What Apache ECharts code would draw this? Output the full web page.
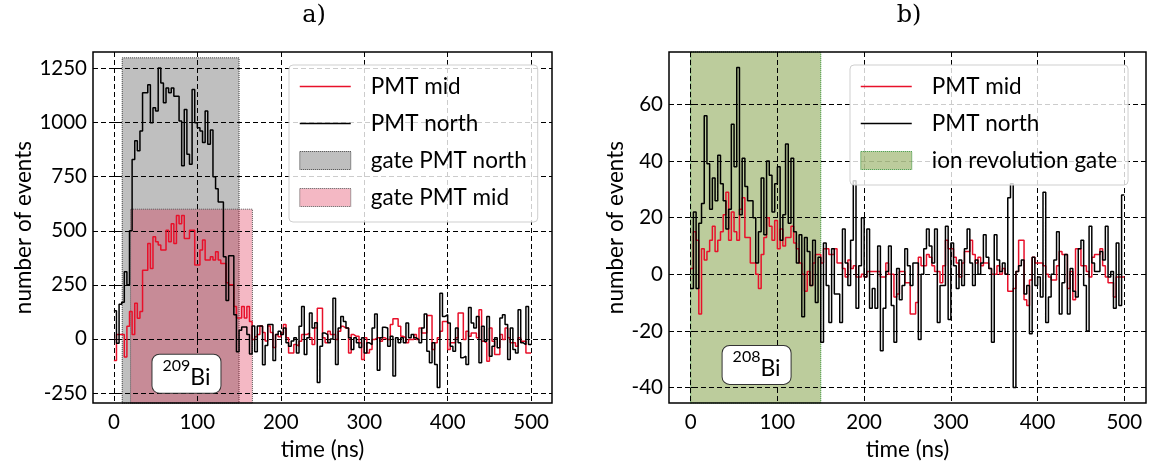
<!DOCTYPE html>
<html><head><meta charset="utf-8">
<script src="https://cdn.jsdelivr.net/npm/echarts@6/dist/echarts.min.js"></script>
<style>html,body{margin:0;padding:0;background:#fff}#c{width:1152px;height:466px}</style>
</head><body><div id="c"></div>
<script>
// ---------- data ----------
const binWidth = 3.125; // ns per histogram bin, bins start at t = 0
const northA = [
 130,-20,160,170,310,250,500,830,916,870,
 962,1138,1138,1176,1000,1069,1054,1253,1184,1092,
 1161,1138,1161,1122,1122,1008,801,1061,854,808,
 1153,1000,977,962,908,1054,900,966,750,694,
 633,633,380,178,385,385,112,-60,40,55,
 55,20,-70,60,-60,60,60,-120,-30,67,
 67,-100,20,35,
 20,50,-18,-34,-10,5,-65,58,150,-72,5,120,50,75,-202,-34,27,20,-18,
 0,
 188,-118,50,104,81,50,5,-49,5,-18,-40,5,-65,-18,-26,50,115,-145,5,54,50,-34,12,-172,5,-18,5,-18,74,5,20,
 5,
 -3,-18,50,115,-57,-110,-18,-118,-225,211,104,112,74,-34,-57,50,-18,-87,-80,-118,145,74,50,104,-110,58,-11,104,-80,
 -34,5,-41,97,112,66,-95,50,-49,
 -65,135,-18,-26,150,-26
];
const midA = [
 -100,20,20,20,-84,58,127,20,165,96,
 127,318,318,441,326,472,449,434,411,411,
 502,449,533,441,571,533,571,464,464,502,
 502,342,342,411,457,365,365,380,365,403,
 365,349,349,260,250,250,150,97,97,150,
 97,150,81,-3,10,20,60,30,-10,60,
 30,-40,20,10,27,66,5,-65,-65,-26,
 -34,-11,20,20,27,5,-26,50,142,142,
 5,-18,35,20,20,-3,35,58,50,50,
 -65,20,12,12,-18,-95,5,-65,-49,-3,
 5,5,-11,5,-3,-3,66,93,93,58,
 12,5,-18,-3,-3,20,-3,50,27,27,
 108,108,-49,-18,5,35,81,81,-49,-18,
 -18,5,120,120,-3,35,12,27,27,5,
 135,-11,-18,-103,50,-11,-72,-72,20,-3,
 50,5,-18,-18,-34,5,-11,-11,-65,-65
];
const northB = [
 -5,22,-5,18,25,56,39,23,34,26,
 42,32,26,16,23,53,38,73,21,41,
 31,26,26,20,4,15,34,14,40,35,
 22,32,38,12,21,46,18,41,15,4,
 14,-15,13,8,-4,12,-10,6,-24,11,
 -4,-17,9,-7,-7,-17,16,4,-4,12,
 33,-12,3,20,-1,16,-12,-5,-12,10,
 -27,-12,1,10,-11,-24,2,-9,-4,9,
 3,-4,4,4,-23,0,9,16,10,4,
 16,-17,-4,-4,17,-16,11,3,-5,5,
 -4,9,16,4,-4,5,0,4,14,6,
 2,-24,14,5,1,4,0,27,32,-40,
 1,3,5,-7,-4,-21,6,-4,-1,-8,
 29,-17,-8,0,5,15,-14,-3,7,-14,
 2,-6,-8,9,12,-4,-20,17,4,1,
 1,8,5,17,-1,1,-12,11,-11,28
];
const midB = [
 2,15,12,-14,9,5,8,12,17,8,
 12,15,21,29,12,22,15,12,23,27,
 13,13,4,4,0,-5,7,13,20,17,
 12,19,9,16,10,13,13,17,11,9,
 4,0,-6,1,-4,4,7,7,4,9,
 9,7,7,9,4,4,2,-1,5,2,
 3,-1,-1,0,-1,1,1,1,1,1,
 -1,-1,4,0,0,-8,-7,1,1,-3,
 -3,-14,-14,-10,6,3,3,7,6,3,
 1,1,-3,3,12,9,9,6,4,-1,
 4,8,8,12,7,4,6,3,4,4,
 2,0,0,3,0,2,0,-6,-6,-5,
 1,12,12,-9,-11,-2,6,4,4,4,
 3,0,-1,-2,-2,3,8,7,7,-5,
 1,-9,9,9,3,3,1,-1,6,7,
 7,9,3,-1,-3,-3,-8,-1,-1,-1
];
const xTicks = [0,100,200,300,400,500];
const yTicksA = [-250,0,250,500,750,1000,1250];
const yTicksB = [-40,-20,0,20,40,60];
const xRange = [-25,525];
const yRangeA = [-297,1327];
const yRangeB = [-45.5,78.5];
const gateNorthA = [10,150,1300];   // from, to, top
const gateMidA = [20,166,600];
const gateB = [0,150];
const isotopeA = ['209','Bi'];
const isotopeB = ['208','Bi'];

// ---------- chart ----------
const F = 'Lato';
const RED = '#e8102a', BLACK = '#000';
const GREY_ST = {color:'rgba(128,128,128,0.5)', borderColor:'#333', borderWidth:1, borderType:'dotted'};
const PINK_ST = {color:'rgba(220,20,60,0.3)', borderColor:'#555', borderWidth:1, borderType:'dotted'};
const GREEN_ST = {color:'rgba(107,142,35,0.45)', borderColor:'#2a8a2a', borderWidth:1, borderType:'dotted'};

function steps(vals){
  const pts = vals.map((v,i)=>[i*binWidth, v]);
  pts.push([vals.length*binWidth, vals[vals.length-1]]);
  return pts;
}
function lineSeries(name, vals, color, gi){
  return {type:'line', name, xAxisIndex:gi, yAxisIndex:gi, data:steps(vals), step:'end',
    symbol:'none', lineStyle:{color, width:1.5}, itemStyle:{color}, z:3, clip:true};
}
function gateSeries(name, gi, areaData, st){
  return {type:'line', name, xAxisIndex:gi, yAxisIndex:gi, data:[], symbol:'none',
    itemStyle:{color:st.color}, lineStyle:{color:st.color}, z:1,
    markArea:{silent:true, itemStyle:st, data:[areaData]}};
}
function labelSeries(gi, coord, iso){
  return {type:'line', name:'lbl'+gi, xAxisIndex:gi, yAxisIndex:gi, data:[], symbol:'none', z:10,
    markPoint:{symbol:'rect', symbolSize:0, silent:true, data:[{coord}],
      label:{show:true, position:'inside', formatter:'{s|'+iso[0]+'}{b|'+iso[1]+'}',
        backgroundColor:'#fff', borderColor:'#333', borderWidth:1, borderRadius:7, padding:[3,10,4,10],
        rich:{s:{fontFamily:F, fontSize:16, color:'#000', lineHeight:16, verticalAlign:'top'},
              b:{fontFamily:F, fontSize:23, color:'#000', lineHeight:31, verticalAlign:'bottom'}}}}};
}
const dash = {color:'#000', type:[5,3], width:1};
const plain = v => String(v);
function xAxisCfg(gi){
  return {type:'value', gridIndex:gi, min:xRange[0], max:xRange[1], z:2,
    axisLine:{show:false},
    axisTick:{show:true, inside:true, length:5, customValues:xTicks, lineStyle:{color:'#000'}},
    axisLabel:{customValues:xTicks, formatter:plain, margin:9, color:'#000', fontFamily:F, fontSize:20.5},
    splitLine:{show:true, lineStyle:dash},
    name:'time (ns)', nameLocation:'middle', nameGap:28,
    nameTextStyle:{fontFamily:F, fontSize:22.5, color:'#000'}};
}
function yAxisCfg(gi, range, ticks, gap){
  return {type:'value', gridIndex:gi, min:range[0], max:range[1], z:2,
    axisLine:{show:false},
    axisTick:{show:true, inside:true, length:5, customValues:ticks, lineStyle:{color:'#000'}},
    axisLabel:{customValues:ticks, formatter:plain, margin:6, color:'#000', fontFamily:F, fontSize:20.5},
    splitLine:{show:true, lineStyle:dash},
    name:'number of events', nameLocation:'middle', nameGap:gap,
    nameTextStyle:{fontFamily:F, fontSize:22.5, color:'#000'}};
}
const legendBase = {orient:'vertical', itemGap:14, itemWidth:51, itemHeight:18,
  backgroundColor:'rgba(255,255,255,0.8)', borderColor:'#cfcfcf', borderWidth:1, borderRadius:4,
  textStyle:{fontFamily:F, fontSize:22.5, color:'#000', lineHeight:20, padding:[0,0,0,15]},
  selectedMode:false, z:10};
const lineItem = name => ({name, itemStyle:{opacity:0}, lineStyle:{width:1.5}});

const option = {
  animation:false,
  backgroundColor:'#fff',
  grid:[
    {left:93, top:52, width:459, height:354, show:true, borderColor:'#000', borderWidth:1.5, backgroundColor:'transparent', z:5},
    {left:669, top:52, width:477, height:354, show:true, borderColor:'#000', borderWidth:1.5, backgroundColor:'transparent', z:5}
  ],
  xAxis:[xAxisCfg(0), xAxisCfg(1)],
  yAxis:[yAxisCfg(0, yRangeA, yTicksA, 57), yAxisCfg(1, yRangeB, yTicksB, 42)],
  legend:[
    Object.assign({}, legendBase, {left:289, top:65, padding:[10,11,13,10],
      data:[lineItem('PMT mid'), lineItem('PMT north'),
        {name:'gate PMT north', icon:'rect', itemStyle:GREY_ST},
        {name:'gate PMT mid', icon:'rect', itemStyle:PINK_ST}]}),
    Object.assign({}, legendBase, {left:850, top:65, padding:[10,11,13,10],
      data:[lineItem('PMT mid'), lineItem('PMT north'),
        {name:'ion revolution gate', icon:'rect', itemStyle:GREEN_ST}]})
  ],
  graphic:[
    {type:'text', x:314, y:4, z:10, style:{text:'a)', fontFamily:'DejaVu Serif', fontSize:24, fill:'#000', align:'center', verticalAlign:'top'}},
    {type:'text', x:909, y:4, z:10, style:{text:'b)', fontFamily:'DejaVu Serif', fontSize:24, fill:'#000', align:'center', verticalAlign:'top'}}
  ],
  series:[
    gateSeries('gate PMT north', 0, [{coord:[gateNorthA[0], yRangeA[0]]},{coord:[gateNorthA[1], gateNorthA[2]]}], GREY_ST),
    gateSeries('gate PMT mid', 0, [{coord:[gateMidA[0], yRangeA[0]]},{coord:[gateMidA[1], gateMidA[2]]}], PINK_ST),
    lineSeries('PMT mid', midA, RED, 0),
    lineSeries('PMT north', northA, BLACK, 0),
    labelSeries(0, [87,-161], isotopeA),
    gateSeries('ion revolution gate', 1, [{xAxis:gateB[0]},{xAxis:gateB[1]}], GREEN_ST),
    lineSeries('PMT mid', midB, RED, 1),
    lineSeries('PMT north', northB, BLACK, 1),
    labelSeries(1, [76,-32], isotopeB)
  ]
};
const chart = echarts.init(document.getElementById('c'), null, {renderer:'canvas'});
chart.setOption(option);
</script></body></html>
